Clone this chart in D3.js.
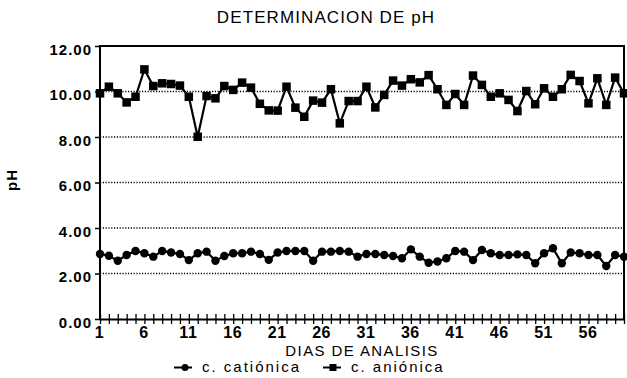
<!DOCTYPE html>
<html>
<head>
<meta charset="utf-8">
<script src="https://cdn.jsdelivr.net/npm/d3@7"></script>
<style>
  html, body { margin: 0; padding: 0; background: #fff; }
  svg { display: block; }
  text { font-family: "Liberation Sans", Arial, sans-serif; fill: #000; }
</style>
</head>
<body>
<svg id="chart" width="627" height="378"></svg>
<script>
// Days of analysis
const dias = d3.range(1, 61);

// pH of the cationic column (circles)
const cationica = [
  2.86, 2.78, 2.56, 2.81, 2.99, 2.89, 2.74, 2.99, 2.92, 2.86,
  2.59, 2.89, 2.96, 2.56, 2.77, 2.89, 2.89, 2.96, 2.86, 2.60,
  2.92, 2.99, 2.99, 2.99, 2.56, 2.96, 2.96, 2.99, 2.96, 2.74,
  2.86, 2.86, 2.81, 2.77, 2.67, 3.06, 2.74, 2.47, 2.53, 2.67,
  2.99, 2.96, 2.59, 3.03, 2.89, 2.81, 2.81, 2.84, 2.81, 2.45,
  2.89, 3.11, 2.45, 2.92, 2.89, 2.81, 2.81, 2.33, 2.81, 2.74
];

// pH of the anionic column (squares)
const anionica = [
  9.92, 10.21, 9.92, 9.52, 9.77, 10.97, 10.24, 10.36, 10.33, 10.26,
  9.77, 8.01, 9.80, 9.70, 10.24, 10.07, 10.39, 10.17, 9.46, 9.17,
  9.16, 10.21, 9.29, 8.89, 9.60, 9.51, 10.10, 8.60, 9.58, 9.58,
  10.21, 9.30, 9.85, 10.48, 10.26, 10.54, 10.40, 10.72, 10.10, 9.41,
  9.89, 9.41, 10.70, 10.29, 9.77, 9.92, 9.63, 9.14, 10.02, 9.44,
  10.14, 9.77, 10.10, 10.73, 10.46, 9.48, 10.58, 9.41, 10.61, 9.92
];

const yTicks = [0, 2, 4, 6, 8, 10, 12];
const xTickLabels = [1, 6, 11, 16, 21, 26, 31, 36, 41, 46, 51, 56];

const titulo = "DETERMINACION DE pH";
const ejeX = "DIAS DE ANALISIS";
const ejeY = "pH";
const leyenda = ["c. catiónica", "c. aniónica"];

const svg = d3.select("#chart");
const m = { left: 100, right: 624, top: 46, bottom: 319 };

const x = d3.scaleLinear().domain([1, 60]).range([m.left, m.right]);
const y = d3.scaleLinear().domain([0, 12]).range([m.bottom, m.top]);

// Dotted horizontal grid
svg.append("g")
  .selectAll("line")
  .data(yTicks.filter(v => v > 0 && v < 12))
  .join("line")
  .attr("x1", m.left).attr("x2", m.right)
  .attr("y1", d => y(d)).attr("y2", d => y(d))
  .attr("stroke", "#000")
  .attr("stroke-width", 1.3)
  .attr("stroke-dasharray", "1.2,1.6");

// Frame: top, left, right
svg.append("path")
  .attr("d", `M${m.left},${m.bottom}V${m.top}H${m.right}V${m.bottom}`)
  .attr("fill", "none")
  .attr("stroke", "#000")
  .attr("stroke-width", 2);

// Y axis ticks and labels
const yAxis = d3.axisLeft(y)
  .tickValues(yTicks)
  .tickSize(5)
  .tickPadding(3)
  .tickFormat(d3.format(".2f"));
svg.append("g")
  .attr("transform", `translate(${m.left},0)`)
  .call(yAxis)
  .call(g => g.select(".domain").remove())
  .call(g => g.selectAll("line").attr("stroke", "#000").attr("stroke-width", 1.5))
  .call(g => g.selectAll("text")
    .attr("dy", "8px")
    .attr("font-size", 15).attr("font-weight", "bold")
    .attr("letter-spacing", "1px")
    .attr("font-family", "'Liberation Sans', Arial, sans-serif"));

// X axis: a cross tick at every day
const xAxis = d3.axisBottom(x)
  .tickValues(dias)
  .tickSizeInner(5)
  .tickSizeOuter(0)
  .tickFormat(d => xTickLabels.includes(d) ? d : "");
svg.append("g")
  .attr("transform", `translate(0,${m.bottom})`)
  .call(xAxis)
  .call(g => g.select(".domain").attr("stroke", "#000").attr("stroke-width", 2))
  .call(g => g.selectAll(".tick line")
    .attr("stroke", "#000").attr("stroke-width", 1.3)
    .attr("y1", -5).attr("y2", 5))
  .call(g => g.selectAll("text")
    .attr("y", 19).attr("dy", null).attr("dx", "-1px")
    .attr("font-size", 16).attr("font-weight", "bold")
    .attr("letter-spacing", "0.5px")
    .attr("font-family", "'Liberation Sans', Arial, sans-serif"));

// Series lines
const line = vals => d3.line()
  .x((d, i) => x(dias[i]))
  .y(d => y(d))(vals);

svg.append("path")
  .attr("d", line(cationica))
  .attr("fill", "none").attr("stroke", "#000").attr("stroke-width", 2.2);
svg.append("path")
  .attr("d", line(anionica))
  .attr("fill", "none").attr("stroke", "#000").attr("stroke-width", 2.2);

// Circle markers for the cationic column
svg.append("g")
  .selectAll("circle")
  .data(cationica)
  .join("circle")
  .attr("cx", (d, i) => x(dias[i]))
  .attr("cy", d => y(d))
  .attr("r", 4.2)
  .attr("fill", "#000");

// Square markers for the anionic column
const sq = 8.5;
svg.append("g")
  .selectAll("rect")
  .data(anionica)
  .join("rect")
  .attr("x", (d, i) => x(dias[i]) - sq / 2)
  .attr("y", d => y(d) - sq / 2)
  .attr("width", sq).attr("height", sq)
  .attr("fill", "#000");

// Title and axis titles
svg.append("text")
  .attr("x", 326).attr("y", 23)
  .attr("text-anchor", "middle")
  .attr("font-size", 17)
  .attr("letter-spacing", "1.1px")
  .text(titulo);

svg.append("text")
  .attr("x", 362).attr("y", 356)
  .attr("text-anchor", "middle")
  .attr("font-size", 15)
  .attr("letter-spacing", "1.4px")
  .text(ejeX);

svg.append("text")
  .attr("transform", "translate(17,180) rotate(-90)")
  .attr("text-anchor", "middle")
  .attr("font-size", 15)
  .attr("font-weight", "bold")
  .attr("letter-spacing", "1px")
  .text(ejeY);

// Legend
const leg = svg.append("g");
const items = [
  { x0: 174, label: leyenda[0], shape: "circle" },
  { x0: 323, label: leyenda[1], shape: "square" }
];
items.forEach(it => {
  const cy = 367.5;
  leg.append("line")
    .attr("x1", it.x0).attr("x2", it.x0 + 18)
    .attr("y1", cy).attr("y2", cy)
    .attr("stroke", "#000").attr("stroke-width", 2);
  if (it.shape === "circle") {
    leg.append("circle").attr("cx", it.x0 + 11).attr("cy", cy).attr("r", 3.5).attr("fill", "#000");
  } else {
    leg.append("rect").attr("x", it.x0 + 6.5).attr("y", cy - 3.5).attr("width", 7).attr("height", 7).attr("fill", "#000");
  }
  leg.append("text")
    .attr("x", it.x0 + 28).attr("y", 372)
    .attr("font-size", 15)
    .attr("letter-spacing", "2px")
    .text(it.label);
});
</script>
</body>
</html>
